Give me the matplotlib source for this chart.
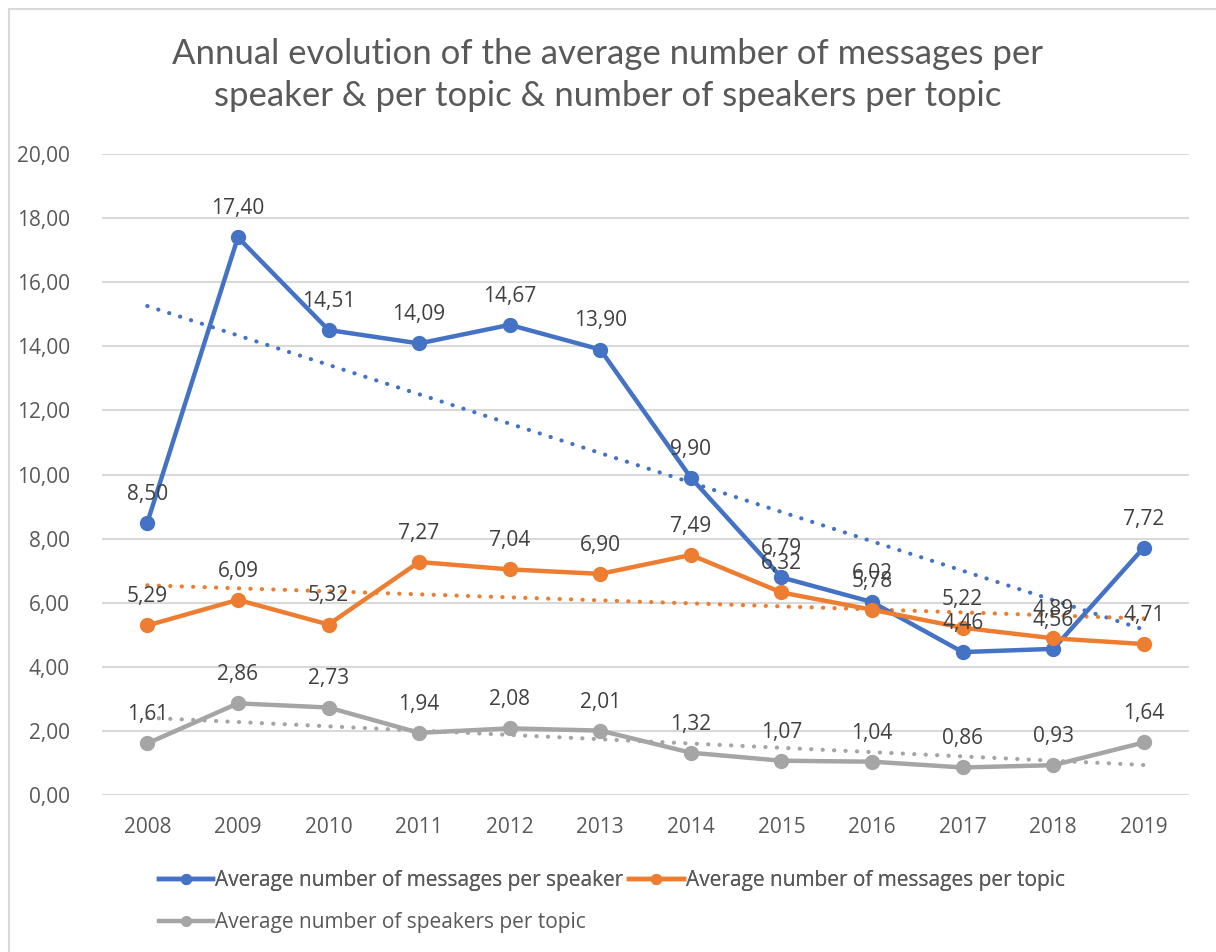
import matplotlib
matplotlib.use("Agg")
import matplotlib.pyplot as plt
import numpy as np
from matplotlib.patches import Rectangle

years = ["2008", "2009", "2010", "2011", "2012", "2013", "2014", "2015", "2016", "2017", "2018", "2019"]
msgs_per_speaker = [8.50, 17.40, 14.51, 14.09, 14.67, 13.90, 9.90, 6.79, 6.02, 4.46, 4.56, 7.72]
msgs_per_topic = [5.29, 6.09, 5.32, 7.27, 7.04, 6.90, 7.49, 6.32, 5.78, 5.22, 4.89, 4.71]
speakers_per_topic = [1.61, 2.86, 2.73, 1.94, 2.08, 2.01, 1.32, 1.07, 1.04, 0.86, 0.93, 1.64]
series_names = ["Average number of messages per speaker",
                "Average number of messages per topic",
                "Average number of speakers per topic"]
colors = ["#4472C4", "#ED7D31", "#A5A5A5"]
title = "Annual evolution of the average number of messages per\nspeaker & per topic & number of speakers per topic"

plt.rcParams['font.family'] = ['Open Sans', 'DejaVu Sans']
fig = plt.figure(figsize=(12.16, 9.52), dpi=100)
fig.patches.append(Rectangle((0.007, -0.01), 1.2, 1.001, transform=fig.transFigure,
                             fill=False, edgecolor="#D9D9D9", linewidth=1.5))
ax = fig.add_axes([0.0839, 0.1649, 0.894, 0.6733])
x = np.arange(len(years))

lines = []
for vals, c, name in zip([msgs_per_speaker, msgs_per_topic, speakers_per_topic], colors, series_names):
    v = np.array(vals)
    ln, = ax.plot(x, v, color=c, lw=3.2, marker='o', ms=10, label=name, zorder=4,
                  solid_joinstyle='round')
    lines.append(ln)
    k, b = np.polyfit(x, v, 1)
    ax.plot(x, k * x + b, color=c, lw=3, linestyle=(0, (0.05, 2.7)),
            dash_capstyle='round', zorder=3)
    for xi, vi in zip(x, v):
        ax.annotate(f"{vi:.2f}".replace('.', ','), (xi, vi), xytext=(0, 13),
                    textcoords='offset points', ha='center', va='bottom',
                    fontsize=15, color="#404040", zorder=5)

ax.set_xlim(-0.5, len(years) - 0.5)
ax.set_ylim(0, 20)
ax.set_yticks(np.arange(0, 21, 2))
ax.set_yticklabels([f"{t:.2f}".replace('.', ',') for t in np.arange(0, 21, 2)])
ax.set_xticks(x)
ax.set_xticklabels(years)
ax.tick_params(axis='both', length=0, labelsize=15, labelcolor="#595959")
ax.tick_params(axis='y', pad=23)
ax.tick_params(axis='x', pad=16)
ax.grid(axis='y', color="#D9D9D9", lw=1.5)
ax.set_axisbelow(True)
for s in ax.spines.values():
    s.set_visible(False)

fig.text(0.5, 0.921, title, ha='center', va='center', fontsize=25, color="#595959",
         family=['Lato', 'DejaVu Sans'], linespacing=1.4)

leg1 = fig.legend(handles=lines[:2], loc='center left', bbox_to_anchor=(0.115, 0.075),
                  ncol=2, frameon=False, fontsize=15, handlelength=2.6, handletextpad=0.1,
                  columnspacing=0.3, labelcolor="#595959")
leg2 = fig.legend(handles=lines[2:], loc='center left', bbox_to_anchor=(0.115, 0.031),
                  frameon=False, fontsize=15, handlelength=2.6, handletextpad=0.1,
                  labelcolor="#595959")
fig.add_artist(leg1)
for lg in (leg1, leg2):
    for h in lg.legend_handles:
        h.set_markersize(7)

fig.savefig("out.png", dpi=100)
